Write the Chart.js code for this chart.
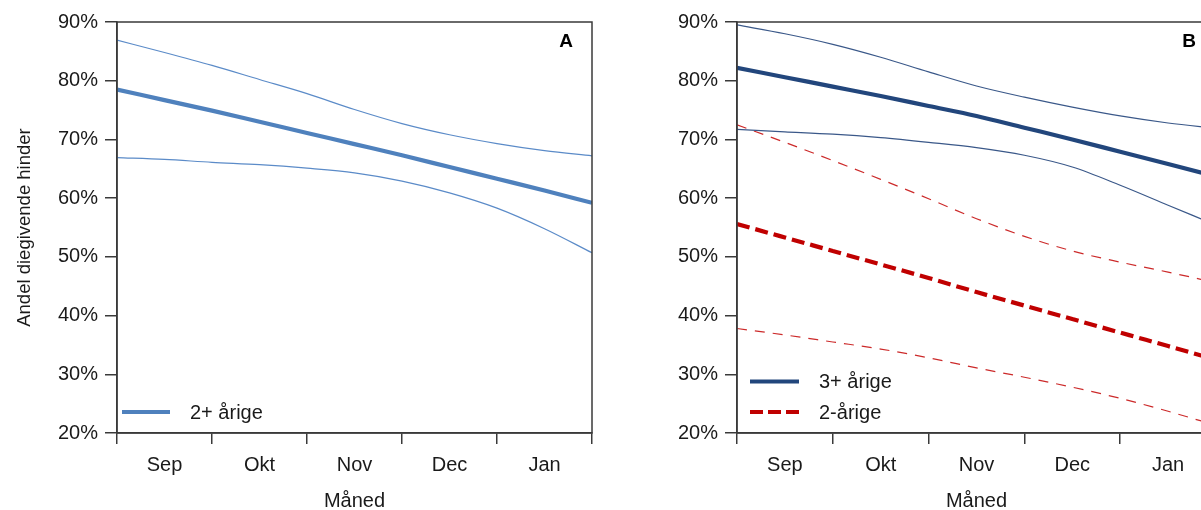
<!DOCTYPE html>
<html>
<head>
<meta charset="utf-8">
<script src="https://cdn.jsdelivr.net/npm/chart.js@4.4.1/dist/chart.umd.min.js"></script>
<style>
  html, body { margin: 0; padding: 0; background: #fff; width: 1201px; height: 510px; overflow: hidden; }
  #chartA { position: absolute; left: 0; top: 0; }
  #chartB { position: absolute; left: 620px; top: 0; }
</style>
</head>
<body>
<canvas id="chartA" width="610" height="510"></canvas>
<canvas id="chartB" width="620" height="510"></canvas>
<script>
const months = ['Sep', 'Okt', 'Nov', 'Dec', 'Jan'];
// position along the month axis, 0 = start of Sep, 5 = end of Jan
const monthPos = [0, 0.5, 1, 1.5, 2, 2.5, 3, 3.5, 4, 4.5, 5];
const yTicks = [20, 30, 40, 50, 60, 70, 80, 90];

// A: 2+ årige
const a2Mean  = [78.5, 76.7, 74.9, 73.0, 71.1, 69.2, 67.3, 65.3, 63.3, 61.3, 59.2];
const a2Upper = [86.9, 84.8, 82.6, 80.2, 77.8, 75.1, 72.7, 70.8, 69.3, 68.1, 67.2];
const a2Lower = [66.9, 66.6, 66.1, 65.7, 65.1, 64.3, 62.9, 60.9, 58.3, 54.8, 50.7];

// B: 3+ årige
const b3Mean  = [82.2, 80.6, 79.0, 77.4, 75.7, 74.0, 72.0, 70.0, 67.9, 65.8, 63.7];
const b3Upper = [89.5, 88.0, 86.2, 84.0, 81.5, 79.1, 77.2, 75.5, 74.0, 72.8, 71.9];
const b3Lower = [71.7, 71.3, 70.9, 70.3, 69.5, 68.6, 67.3, 65.3, 62.2, 58.8, 55.4];

// B: 2-årige
const b2Mean  = [55.6, 53.3, 51.0, 48.7, 46.4, 44.0, 41.7, 39.4, 37.1, 34.8, 32.5];
const b2Upper = [72.5, 69.5, 66.4, 63.2, 59.9, 56.5, 53.5, 51.0, 49.1, 47.4, 45.6];
const b2Lower = [37.8, 36.7, 35.5, 34.3, 32.8, 31.1, 29.5, 27.8, 25.9, 23.7, 21.3];

const FONT = "'Liberation Sans', Arial, sans-serif";
const TEXT = '#1a1a1a';
const AXIS = '#3a3a3a';

function pts(arr) {
    return monthPos.map((x, i) => ({ x: x, y: arr[i] }));
}

function line(label, arr, color, width, dash) {
    return {
        label: label,
        data: pts(arr),
        xAxisID: 'x2',
        borderColor: color,
        borderWidth: width,
        borderDash: dash || [],
        pointRadius: 0,
        fill: false,
        cubicInterpolationMode: 'monotone'
    };
}

// box round the plot, the panel letter and the legend inside the plot
const panelDecor = {
    id: 'panelDecor',
    afterDraw(chart, args, opts) {
        const { ctx, chartArea: a } = chart;
        ctx.save();
        ctx.strokeStyle = AXIS;
        ctx.lineWidth = 1.5;
        ctx.strokeRect(a.left, a.top, a.right - a.left, a.bottom - a.top);

        ctx.fillStyle = '#000';
        ctx.font = 'bold 19px ' + FONT;
        ctx.textAlign = 'right';
        ctx.textBaseline = 'middle';
        ctx.fillText(opts.letter, a.right - opts.letterRight, a.top + 20);

        const items = chart.data.datasets.filter(d => d.label);
        ctx.font = '20px ' + FONT;
        ctx.textAlign = 'left';
        items.forEach((d, i) => {
            const y = a.bottom - 21 - (items.length - 1 - i) * 30.5;
            ctx.beginPath();
            ctx.strokeStyle = d.borderColor;
            ctx.lineWidth = 4;
            ctx.setLineDash(d.borderDash.length ? [13, 5] : []);
            ctx.moveTo(a.left + opts.legendX0, y);
            ctx.lineTo(a.left + opts.legendX1, y);
            ctx.stroke();
            ctx.setLineDash([]);
            ctx.fillStyle = TEXT;
            ctx.fillText(d.label, a.left + opts.legendText, y + 1);
        });
        ctx.restore();
    }
};

function panelChart(id, datasets, o) {
    return new Chart(document.getElementById(id), {
        type: 'line',
        data: { labels: months, datasets: datasets },
        options: {
            responsive: false,
            animation: false,
            layout: { padding: { top: 22, right: o.padRight, left: 0, bottom: 0 } },
            plugins: {
                legend: { display: false },
                tooltip: { enabled: false },
                panelDecor: o.decor
            },
            scales: {
                x: {
                    type: 'category',
                    offset: true,
                    grid: { offset: true, drawOnChartArea: false, tickLength: 11, color: AXIS, lineWidth: 1.5 },
                    border: { color: AXIS, width: 1.5 },
                    ticks: { font: { family: FONT, size: 20 }, color: TEXT, padding: 9 },
                    title: { display: true, text: 'Måned', font: { family: FONT, size: 20 }, color: TEXT, padding: { top: 0, bottom: -3 } },
                    afterFit: s => { s.height = 77; }
                },
                x2: { type: 'linear', min: 0, max: 5, display: false },
                y: {
                    min: yTicks[0],
                    max: yTicks[yTicks.length - 1],
                    afterBuildTicks: s => { s.ticks = yTicks.map(v => ({ value: v })); },
                    grid: { drawOnChartArea: false, tickLength: 12, color: AXIS, lineWidth: 1.5 },
                    border: { color: AXIS, width: 1.5 },
                    ticks: { font: { family: FONT, size: 20 }, color: TEXT, padding: 7, callback: v => v + '%' },
                    title: {
                        display: !!o.yTitle, text: o.yTitle || '',
                        font: { family: FONT, size: 18.5 }, color: TEXT, padding: { top: 14, bottom: 0 }
                    },
                    afterFit: s => { s.width = 117; }
                }
            }
        },
        plugins: [panelDecor]
    });
}

const blueA = '#4f81bd';
const blueAthin = '#5b8bc8';
const navy = '#22467c';
const navyThin = '#3a5889';
const red = '#c00000';
const redThin = '#cc2a2a';

panelChart('chartA', [
    line('2+ årige', a2Mean, blueA, 4.2),
    line('', a2Upper, blueAthin, 1.2),
    line('', a2Lower, blueAthin, 1.2)
], {
    padRight: 18,
    yTitle: 'Andel diegivende hinder',
    decor: { letter: 'A', letterRight: 19, legendX0: 5, legendX1: 53, legendText: 73 }
});

panelChart('chartB', [
    line('3+ årige', b3Mean, navy, 4.2),
    line('', b3Upper, navyThin, 1.2),
    line('', b3Lower, navyThin, 1.2),
    line('2-årige', b2Mean, red, 4.2, [13, 6]),
    line('', b2Upper, redThin, 1.2, [10, 8]),
    line('', b2Lower, redThin, 1.2, [10, 8])
], {
    padRight: 24,
    yTitle: '',
    decor: { letter: 'B', letterRight: 20, legendX0: 13, legendX1: 62, legendText: 82 }
});
</script>
</body>
</html>
